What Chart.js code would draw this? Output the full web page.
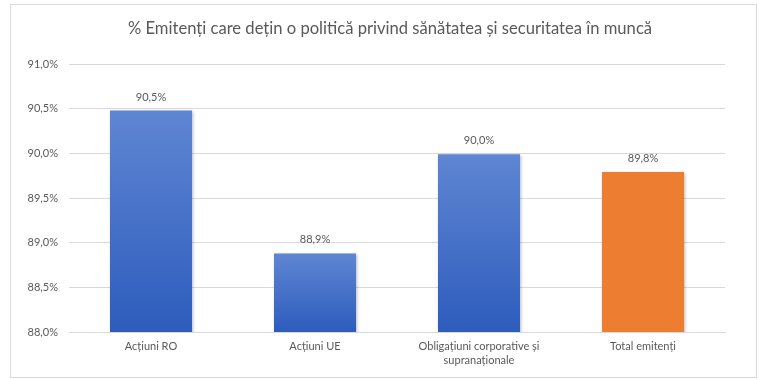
<!DOCTYPE html>
<html>
<head>
<meta charset="utf-8">
<script src="https://cdn.jsdelivr.net/npm/chart.js@4"></script>
<style>
  html, body { margin: 0; padding: 0; background: #fff; }
  #wrap { position: absolute; left: 10px; top: 4px; width: 745px; height: 372px; border: 1px solid #d9d9d9; }
</style>
</head>
<body>
<div id="wrap"><canvas id="chart" width="745" height="372"></canvas></div>
<script>
  const titleText = '% Emitenți care dețin o politică privind sănătatea și securitatea în muncă';
  const categories = [['Acțiuni RO'], ['Acțiuni UE'], ['Obligațiuni corporative și', 'supranaționale'], ['Total emitenți']];
  const values = [90.48, 88.88, 89.99, 89.79];
  const barKinds = ['blue', 'blue', 'blue', 'orange'];
  const yMin = 88, yMax = 91, yStep = 0.5;

  const FONT = 'Lato, "Open Sans", sans-serif';
  const TEXT = '#595959';

  function fmt(v) {
    return v.toFixed(1).replace('.', ',') + '%';
  }

  function barFill(ctx) {
    const chart = ctx.chart;
    const i = ctx.dataIndex;
    if (barKinds[i] === 'orange') return '#ed7d31';
    const area = chart.chartArea;
    const y = chart.scales.y;
    if (!area || !y) return '#4472c4';
    const top = y.getPixelForValue(values[i]);
    const g = chart.ctx.createLinearGradient(0, top, 0, area.bottom);
    g.addColorStop(0, '#5f86d3');
    g.addColorStop(1, '#2d5cbc');
    return g;
  }

  // soft shadow behind the bars, like the office chart
  const barShadow = {
    id: 'barShadow',
    beforeDatasetsDraw(chart) {
      const c = chart.ctx;
      c.save();
      c.shadowColor = 'rgba(0,0,0,0.28)';
      c.shadowBlur = 3;
      c.shadowOffsetX = 1;
      c.shadowOffsetY = 1;
    },
    afterDatasetsDraw(chart) {
      chart.ctx.restore();
    }
  };

  const valueLabels = {
    id: 'valueLabels',
    afterDatasetsDraw(chart) {
      const c = chart.ctx;
      const meta = chart.getDatasetMeta(0);
      c.save();
      c.font = '11px ' + FONT;
      c.fillStyle = TEXT;
      c.textAlign = 'center';
      c.textBaseline = 'bottom';
      meta.data.forEach((bar, i) => {
        c.fillText(fmt(values[i]), bar.x, bar.y - 8);
      });
      c.restore();
    }
  };

  // title centred on the whole chart box, not on the padded area
  const chartTitle = {
    id: 'chartTitle',
    afterDraw(chart) {
      const c = chart.ctx;
      c.save();
      c.font = '16.6px ' + FONT;
      c.fillStyle = TEXT;
      c.textAlign = 'center';
      c.textBaseline = 'middle';
      c.fillText(titleText, 379, 24);
      c.restore();
    }
  };

  new Chart(document.getElementById('chart'), {
    type: 'bar',
    data: {
      labels: categories,
      datasets: [{
        data: values,
        backgroundColor: barFill,
        borderWidth: 0,
        barPercentage: 0.5,
        categoryPercentage: 1
      }]
    },
    options: {
      responsive: false,
      animation: false,
      layout: { padding: { left: 0, right: 31, top: 59, bottom: 0 } },
      plugins: {
        legend: { display: false },
        tooltip: { enabled: false },
        title: { display: false }
      },
      scales: {
        x: {
          grid: { display: false, drawTicks: false },
          border: { display: true, color: '#d9d9d9' },
          ticks: {
            color: TEXT,
            font: { family: FONT, size: 11, lineHeight: 1.3 },
            padding: 7,
            maxRotation: 0,
            autoSkip: false
          },
          afterFit(scale) { scale.height = 45; }
        },
        y: {
          min: yMin,
          max: yMax,
          grid: { color: '#d9d9d9', drawTicks: false },
          border: { display: false },
          ticks: {
            stepSize: yStep,
            color: TEXT,
            font: { family: FONT, size: 11 },
            padding: 11,
            callback: (v) => fmt(v)
          },
          afterFit(scale) { scale.width = 58; }
        }
      }
    },
    plugins: [barShadow, valueLabels, chartTitle]
  });
</script>
</body>
</html>
